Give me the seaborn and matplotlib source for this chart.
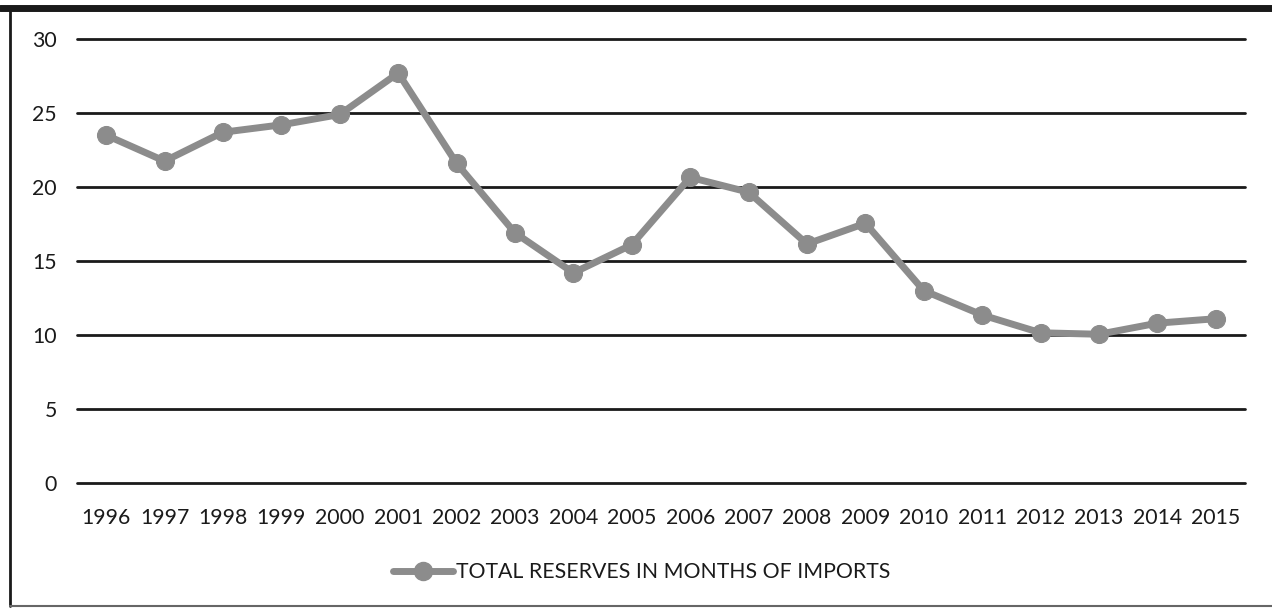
import matplotlib
matplotlib.use("Agg")
import matplotlib.pyplot as plt
import seaborn as sns
import pandas as pd
from matplotlib.lines import Line2D

years = ["1996", "1997", "1998", "1999", "2000", "2001", "2002", "2003", "2004", "2005",
         "2006", "2007", "2008", "2009", "2010", "2011", "2012", "2013", "2014", "2015"]
reserves = [23.5, 21.75, 23.7, 24.2, 24.9, 27.7, 21.6, 16.9, 14.2, 16.1,
            20.65, 19.65, 16.15, 17.55, 13.0, 11.35, 10.15, 10.05, 10.8, 11.1]
series_name = "TOTAL RESERVES IN MONTHS OF IMPORTS"
y_ticks = [0, 5, 10, 15, 20, 25, 30]

sns.set_theme(style="white")
plt.rcParams['font.family'] = ['Lato', 'DejaVu Sans']

W, H = 1272, 611
fig = plt.figure(figsize=(W / 100, H / 100), dpi=100)
ax = fig.add_axes([77 / W, 1 - 483 / H, (1245 - 77) / W, (483 - 39) / H])

df = pd.DataFrame({"year": years, "value": reserves})
grey = "#8c8c8c"
sns.lineplot(data=df, x="year", y="value", ax=ax, color=grey, linewidth=5,
             marker="o", markersize=13, markeredgecolor=grey, sort=False, zorder=3)

ax.set_xlim(-0.5, len(years) - 0.5)
ax.set_ylim(0, 30)
ax.set_yticks(y_ticks)
ax.set_yticklabels([str(t) for t in y_ticks])
for t in y_ticks:
    ax.axhline(t, color="#1a1a1a", linewidth=2, zorder=1, clip_on=False)
for s in ax.spines.values():
    s.set_visible(False)
ax.set_xlabel("")
ax.set_ylabel("")
ax.tick_params(axis="both", length=0, labelsize=15.3, colors="#1a1a1a")
ax.tick_params(axis="y", pad=14.4)
ax.tick_params(axis="x", pad=18)

handle = Line2D([], [], color=grey, linewidth=5, marker="o", markersize=13,
                markeredgecolor=grey)
fig.legend([handle], [series_name], loc="center", bbox_to_anchor=(642 / W, 1 - 572 / H),
           frameon=False, fontsize=15.3, handlelength=2.8, handletextpad=0.15,
           labelcolor="#1a1a1a")

# figure frame
fig.add_artist(Line2D([0, 1], [1 - 8 / H, 1 - 8 / H], color="#1a1a1a", linewidth=5,
                      transform=fig.transFigure))
fig.add_artist(Line2D([10 / W, 10 / W], [1 - 8 / H, 1 - 606 / H], color="#1a1a1a",
                      linewidth=2, transform=fig.transFigure))
fig.add_artist(Line2D([10 / W, 1], [1 - 606 / H, 1 - 606 / H], color="#666666",
                      linewidth=1.5, transform=fig.transFigure))

fig.savefig("out.png", dpi=100, facecolor="white")
